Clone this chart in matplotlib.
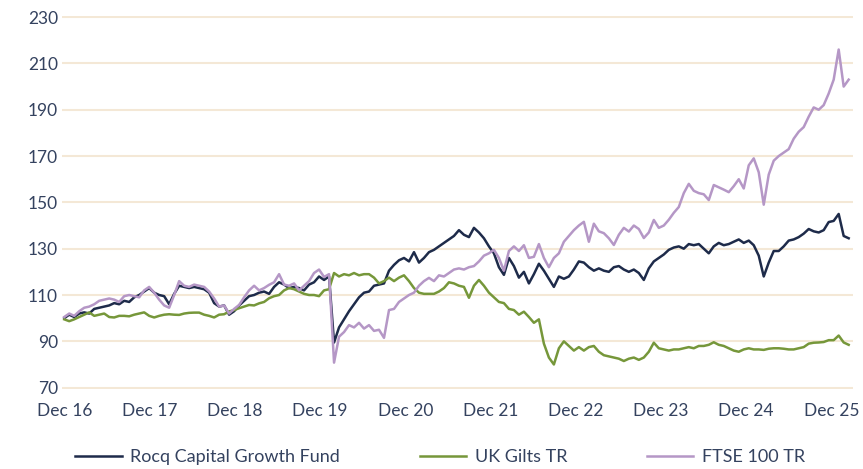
import numpy as np
import pandas as pd
import matplotlib
matplotlib.use('Agg')
import matplotlib.pyplot as plt

# index levels, evenly spaced from Dec 2016 to Mar 2026
rocq = [100, 101.5, 100.5, 102, 102.5, 102, 104, 104.5, 105, 105.5,
        106.5, 106, 107.5, 107, 109, 110, 111.5, 113, 111, 110,
        109.5, 106, 110.5, 114, 113.5, 113, 113.5, 113, 112.5, 111,
        106.5, 105, 105.5, 101.5, 103, 105.5, 107.5, 109.5, 110, 111,
        111.5, 110.5, 113.5, 115.5, 114.5, 113, 113.5, 113, 112, 114.5,
        115.5, 118, 116.5, 118, 89.5, 96, 99.5, 103, 106, 109,
        111, 111.5, 114, 114.5, 115, 120.5, 123, 125, 126, 124.5,
        128.5, 124, 126, 128.5, 129.5, 131, 132.5, 134, 135.5, 138,
        136, 135, 139, 137, 134.5, 131, 128, 122, 118.7, 126,
        122.5, 117.5, 120, 115, 119, 123.5, 120.5, 117, 113.5, 118,
        117, 118, 121, 124.5, 124, 122, 120.5, 121.5, 120.5, 120,
        122, 122.5, 121, 120, 121, 119.5, 116.5, 121.5, 124.5, 126,
        127.5, 129.5, 130.5, 131, 130, 132, 131.5, 132, 130, 128,
        131, 132.5, 131.5, 132, 133, 134, 132.5, 133.5, 131.5, 127,
        118, 124, 129, 129, 131, 133.5, 134, 135, 136.5, 138.5,
        137.5, 137, 138, 141.5, 142, 145, 135.5, 134.5]

gilts = [99.5, 98.7, 99.5, 100.5, 101.5, 102.5, 101, 101.5, 102, 100.5,
         100.3, 101, 101, 100.8, 101.5, 102, 102.5, 101, 100.3, 101,
         101.5, 101.7, 101.5, 101.4, 102, 102.3, 102.4, 102.4, 101.5, 101,
         100.3, 101.5, 101.7, 102.9, 103.5, 104.3, 105, 105.7, 105.5, 106.4,
         107, 108.6, 109.5, 110, 112, 113, 112.5, 111.5, 110.5, 110,
         110, 109.5, 112, 112.5, 119.5, 118, 119, 118.5, 119.5, 118.5,
         119, 119, 117.5, 115, 116, 117.5, 116, 117.5, 118.5, 116,
         113, 111, 110.5, 110.5, 110.5, 111.5, 113, 115.5, 115, 114,
         113.5, 108.8, 114, 116.5, 114, 111, 109, 107, 106.5, 104,
         103.5, 101.5, 102.8, 100.5, 98, 99.5, 89, 83, 80, 87,
         90, 88, 86, 87.5, 86, 87.5, 88, 85.5, 84, 83.5,
         83, 82.5, 81.5, 82.5, 83, 82, 83, 85.5, 89.4, 87,
         86.5, 86, 86.5, 86.5, 87, 87.5, 87, 88, 88, 88.5,
         89.6, 88.5, 88, 87, 86, 85.5, 86.5, 87, 86.5, 86.5,
         86.3, 86.8, 87, 87, 86.8, 86.5, 86.5, 87, 87.5, 89,
         89.4, 89.5, 89.7, 90.5, 90.5, 92.5, 89.5, 88.5]

ftse = [100.5, 102, 101, 103, 104.5, 105, 106, 107.5, 108, 108.5,
        108, 107, 109.5, 110, 109.5, 109, 112, 113.5, 111, 108,
        105.5, 104.5, 110, 116, 114, 113.5, 114.5, 114, 113.5, 111.5,
        108.5, 105, 105.5, 102, 104, 105.7, 109, 112, 114, 112,
        113, 114.4, 115.5, 119, 114.5, 114, 115, 112, 114, 116,
        119.5, 121, 117.8, 119, 80.8, 92, 94, 97, 96, 98,
        95.5, 97, 94.5, 95, 91.5, 103.5, 104, 107, 108.5, 110,
        111, 114, 116, 117.4, 116, 118.5, 118, 119.5, 121, 121.5,
        121, 122, 122.5, 124.5, 127, 128, 129.5, 126, 120.5, 129,
        131, 129, 131.5, 126, 126.5, 132, 126, 122, 126, 128,
        133, 135.5, 138, 140, 141.6, 133, 140.8, 137.5, 136.7, 134.5,
        131.6, 136, 139, 137.4, 140, 138.5, 134.6, 137, 142.4, 139,
        140, 142.5, 145.5, 148, 154, 158, 155, 154, 153.5, 151,
        157.5, 156.5, 155.5, 154.4, 157, 160, 156, 166, 169, 163,
        149, 162, 168, 170, 171.5, 173, 177.5, 180.5, 182.5, 187,
        191, 190, 192, 197, 203, 216, 200, 203]

series_names = ['Rocq Capital Growth Fund', 'UK Gilts TR', 'FTSE 100 TR']
series_colors = ['#1e2b4a', '#76973a', '#b597c6']
tick_years = list(range(2016, 2026))
tick_labels = ['Dec ' + str(y)[2:] for y in tick_years]
y_ticks = list(range(70, 231, 20))

dates = pd.date_range('2016-12-31', '2026-03-15', periods=len(rocq))

plt.rcParams['font.family'] = ['Lato', 'DejaVu Sans']
text_color = '#34425f'

fig = plt.figure(figsize=(8.63, 4.69), dpi=100)
ax = fig.add_axes([0.072, 0.171, 0.916, 0.795])

for vals, name, col in zip([rocq, gilts, ftse], series_names, series_colors):
    ax.plot(dates, vals, color=col, lw=1.8, label=name, zorder=3)

ax.set_ylim(69.5, 230.5)
ax.set_xlim(dates[0] - pd.Timedelta(days=9), dates[-1] + pd.Timedelta(days=17))
ax.set_yticks(y_ticks)
ax.set_xticks([pd.Timestamp(y, 12, 31) for y in tick_years])
ax.set_xticklabels(tick_labels)
ax.grid(axis='y', color='#f4e8d6', lw=1.5, zorder=0)
ax.grid(axis='x', visible=False)
for s in ax.spines.values():
    s.set_visible(False)
ax.tick_params(axis='both', length=0, labelsize=12.5, colors=text_color)
ax.tick_params(axis='x', pad=10)
ax.tick_params(axis='y', pad=3)

fig.legend(loc='center', bbox_to_anchor=(440 / 863, 1 - 457 / 469), ncol=3,
           frameon=False, fontsize=13, handlelength=2.6, columnspacing=4.4,
           handletextpad=0.45, labelcolor=text_color)

fig.savefig('out.png', dpi=100)
